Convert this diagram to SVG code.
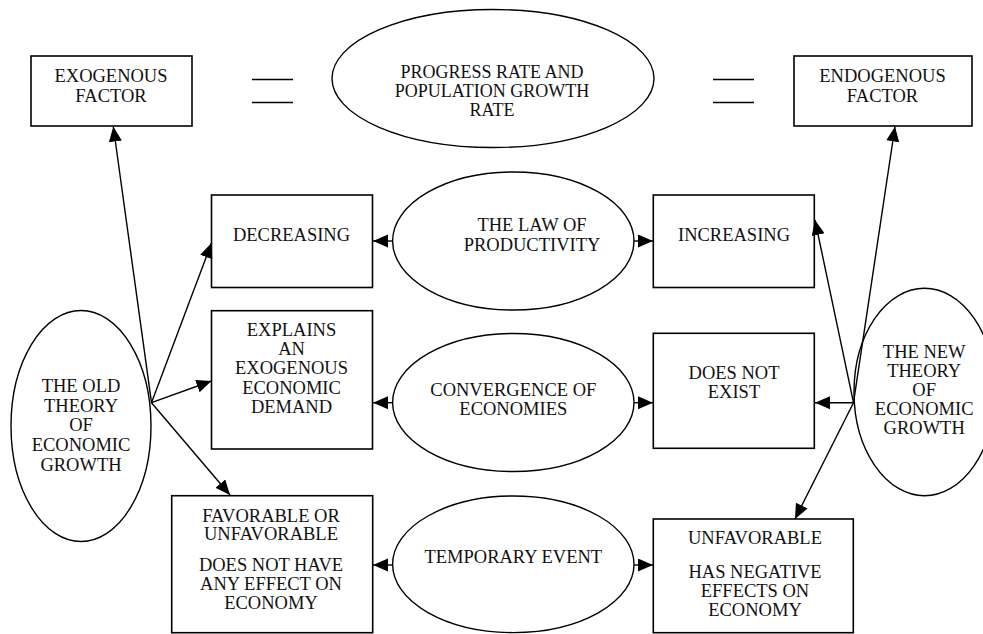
<svg xmlns="http://www.w3.org/2000/svg" width="983" height="634" viewBox="0 0 983 634">
<defs>
<style>
.box{fill:#fff;stroke:#000;stroke-width:1.6}
.ell{fill:#fff;stroke:#000;stroke-width:1.4}
.t{font-family:"Liberation Serif","Times New Roman",serif;font-size:18.5px;fill:#111;text-anchor:middle}
.s{font-size:18px}
.c{stroke:#000;stroke-width:1.4;fill:none;marker-end:url(#ah)}
.eq{stroke:#000;stroke-width:1.5}
</style>
<marker id="ah" markerUnits="userSpaceOnUse" markerWidth="16" markerHeight="14" refX="15" refY="6.5" orient="auto">
<path d="M0,0 L15,6.5 L0,13 Z" fill="#000"/>
</marker>
</defs>
<rect width="983" height="634" fill="#fff"/>

<g id="exogenous">
<rect class="box" x="31" y="56" width="161" height="70"/>
<text class="t" x="111" y="82">EXOGENOUS</text>
<text class="t" x="111" y="102">FACTOR</text>
</g>
<g id="eq-left">
<line class="eq" x1="252" y1="79.5" x2="293" y2="79.5"/>
<line class="eq" x1="252" y1="102.5" x2="293" y2="102.5"/>
</g>
<g id="progress">
<ellipse class="ell" cx="493" cy="78.5" rx="161" ry="69"/>
<text class="t s" x="492" y="78">PROGRESS RATE AND</text>
<text class="t s" x="492" y="97">POPULATION GROWTH</text>
<text class="t s" x="492" y="116">RATE</text>
</g>
<g id="eq-right">
<line class="eq" x1="713" y1="79.5" x2="754" y2="79.5"/>
<line class="eq" x1="713" y1="102.5" x2="754" y2="102.5"/>
</g>
<g id="endogenous">
<rect class="box" x="794" y="56" width="178" height="70"/>
<text class="t" x="882.5" y="82">ENDOGENOUS</text>
<text class="t" x="882.5" y="102">FACTOR</text>
</g>

<g id="decreasing">
<rect class="box" x="211.5" y="195" width="161" height="92.5"/>
<text class="t" x="291.5" y="241">DECREASING</text>
</g>
<g id="law">
<ellipse class="ell" cx="513.3" cy="241" rx="120.7" ry="69"/>
<text class="t" x="532" y="231">THE LAW OF</text>
<text class="t" x="532" y="251">PRODUCTIVITY</text>
</g>
<g id="increasing">
<rect class="box" x="653.3" y="195" width="161" height="92.5"/>
<text class="t" x="734" y="241">INCREASING</text>
</g>

<g id="explains">
<rect class="box" x="211.5" y="310.7" width="161" height="138.3"/>
<text class="t" x="291.5" y="335.7">EXPLAINS</text>
<text class="t" x="291.5" y="355">AN</text>
<text class="t" x="291.5" y="374.3">EXOGENOUS</text>
<text class="t" x="291.5" y="393.5">ECONOMIC</text>
<text class="t" x="291.5" y="413.3">DEMAND</text>
</g>
<g id="convergence">
<ellipse class="ell" cx="513.3" cy="402.5" rx="120.7" ry="69"/>
<text class="t" x="513.3" y="396">CONVERGENCE OF</text>
<text class="t" x="513.3" y="415">ECONOMIES</text>
</g>
<g id="doesnotexist">
<rect class="box" x="653.3" y="333.3" width="161" height="115"/>
<text class="t" x="734" y="379">DOES NOT</text>
<text class="t" x="734" y="398.3">EXIST</text>
</g>

<g id="favorable">
<rect class="box" x="171.7" y="495.7" width="201" height="137"/>
<text class="t" x="271" y="521.7">FAVORABLE OR</text>
<text class="t" x="271" y="540">UNFAVORABLE</text>
<text class="t" x="271" y="571">DOES NOT HAVE</text>
<text class="t" x="271" y="590">ANY EFFECT ON</text>
<text class="t" x="271" y="609.3">ECONOMY</text>
</g>
<g id="temporary">
<ellipse class="ell" cx="513.3" cy="564.3" rx="120.7" ry="68.3"/>
<text class="t" x="513.3" y="562.7">TEMPORARY EVENT</text>
</g>
<g id="unfavorable">
<rect class="box" x="653.3" y="519" width="200" height="113.7"/>
<text class="t" x="755" y="544.3">UNFAVORABLE</text>
<text class="t" x="755" y="577.7">HAS NEGATIVE</text>
<text class="t" x="755" y="596.7">EFFECTS ON</text>
<text class="t" x="755" y="616">ECONOMY</text>
</g>

<g id="oldtheory">
<ellipse class="ell" cx="81" cy="426" rx="70" ry="115.5"/>
<text class="t" x="81" y="392">THE OLD</text>
<text class="t" x="81" y="411.7">THEORY</text>
<text class="t" x="81" y="431">OF</text>
<text class="t" x="81" y="451.3">ECONOMIC</text>
<text class="t" x="81" y="471">GROWTH</text>
</g>
<g id="newtheory">
<ellipse class="ell" cx="924.5" cy="392" rx="70.5" ry="103.7"/>
<text class="t" x="924.2" y="358.3">THE NEW</text>
<text class="t" x="924.2" y="377">THEORY</text>
<text class="t" x="924.2" y="396">OF</text>
<text class="t" x="924.2" y="415">ECONOMIC</text>
<text class="t" x="924.2" y="434">GROWTH</text>
</g>

<g id="connectors">
<line class="c" x1="151.5" y1="402.7" x2="113.3" y2="126.5"/>
<line class="c" x1="151.5" y1="402.7" x2="211.5" y2="243"/>
<line class="c" x1="151.5" y1="402.7" x2="211.5" y2="381"/>
<line class="c" x1="151.5" y1="402.7" x2="230" y2="495"/>
<line class="c" x1="853.5" y1="402.7" x2="895" y2="126.5"/>
<line class="c" x1="853.5" y1="402.7" x2="815" y2="220"/>
<line class="c" x1="853.5" y1="402.7" x2="815" y2="402.7"/>
<line class="c" x1="853.5" y1="402.7" x2="795" y2="519"/>
<line class="c" x1="392.7" y1="241" x2="373" y2="241"/>
<line class="c" x1="634" y1="241" x2="653" y2="241"/>
<line class="c" x1="392.7" y1="402.7" x2="373" y2="402.7"/>
<line class="c" x1="634" y1="402.7" x2="653" y2="402.7"/>
<line class="c" x1="392.7" y1="565" x2="373" y2="565"/>
<line class="c" x1="634" y1="565" x2="653" y2="565"/>
</g>
</svg>
